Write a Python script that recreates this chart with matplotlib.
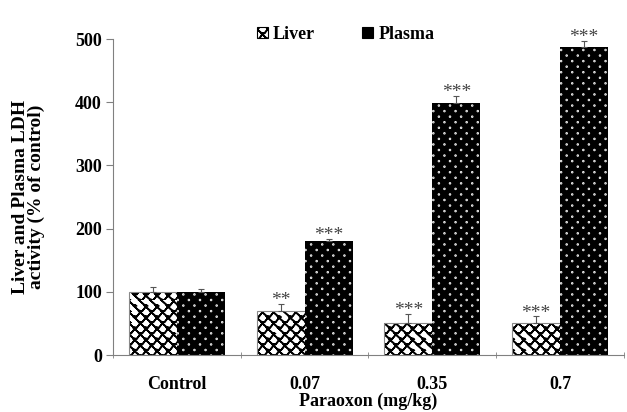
import numpy as np
import matplotlib
matplotlib.use("Agg")
import matplotlib.pyplot as plt
from matplotlib import hatch as mhatch
from matplotlib.path import Path

# data
categories = ["Control", "0.07", "0.35", "0.7"]
liver = [100, 70, 51, 51]
liver_err = [7, 11, 14, 10]
plasma = [100, 181, 399, 487]
plasma_err = [4, 3, 11, 10]
liver_stars = ["", "**", "***", "***"]
plasma_stars = ["", "***", "***", "***"]


# custom fill patterns (Excel-like "shingle" and staggered dots)
class ShingleHatch(mhatch.HatchPatternBase):
    rows, cols = 18, 9

    def __init__(self, hatch, density):
        self.on = hatch.count("O") > 0
        self.num_vertices = self.rows * (self.cols + 2) * 7 if self.on else 0

    def set_vertices_and_codes(self, vertices, codes):
        p = 1.0 / self.cols
        h = 1.0 / self.rows
        cup = np.array([[0.0, 1.0], [0.5, 0.1], [0.8, 0.0], [1.0, 0.5]])
        cup = cup * [p, h]
        shape = np.concatenate([cup, cup[-2::-1]])
        code = [Path.MOVETO] + [Path.LINETO] * 6
        vs, cs = [], []
        for r in range(self.rows):
            off = 0.5 * p if r % 2 else 0.0
            for j in range(-1, self.cols + 1):
                vs.append(shape + [j * p + off, r * h])
                cs.append(code)
        np.concatenate(vs, out=vertices)
        np.concatenate(cs, out=codes)


class StaggerDots(mhatch.HatchPatternBase):
    rows, cols = 18, 9
    radius = 0.004

    def __init__(self, hatch, density):
        self.on = hatch.count(".") > 0
        self.circle = Path.unit_circle()
        n = len(self.circle.vertices)
        self.num_vertices = (self.rows + 1) * (self.cols + 1) * n if self.on else 0

    def set_vertices_and_codes(self, vertices, codes):
        p = 1.0 / self.cols
        h = 1.0 / self.rows
        cv = self.circle.vertices * self.radius
        vs, cs = [], []
        for r in range(self.rows + 1):
            off = 0.5 * p if r % 2 else 0.0
            for j in range(self.cols + 1):
                vs.append(cv + [j * p + off, r * h])
                cs.append(self.circle.codes)
        np.concatenate(vs, out=vertices)
        np.concatenate(cs, out=codes)


mhatch._hatch_types = [ShingleHatch, StaggerDots]

plt.rcParams["font.family"] = ["Liberation Serif", "DejaVu Serif"]
plt.rcParams["hatch.linewidth"] = 1.2

fig = plt.figure(figsize=(6.27, 4.12), dpi=100)
ax = fig.add_axes([0.1802, 0.1383, 0.815, 0.767])

x = np.arange(len(categories))
w = 0.376

ax.bar(x - w / 2, liver, w, color="white", edgecolor="black",
       hatch="O", linewidth=0, label="Liver")
ax.bar(x - w / 2, liver, w, fill=False, edgecolor="#888888", linewidth=0.8)
ax.bar(x + w / 2, plasma, w, color="black", edgecolor="white",
       hatch=".", linewidth=0, label="Plasma")

ax.errorbar(x - w / 2, liver, yerr=[np.zeros(4), liver_err], fmt="none",
            ecolor="#555555", elinewidth=0.8, capsize=2, capthick=0.8)
ax.errorbar(x + w / 2, plasma, yerr=[np.zeros(4), plasma_err], fmt="none",
            ecolor="#555555", elinewidth=0.8, capsize=2, capthick=0.8)

for i in range(len(categories)):
    if liver_stars[i]:
        ax.text(x[i] - w / 2, liver[i] + liver_err[i] - 8, liver_stars[i],
                ha="center", va="bottom", fontsize=14, color="#444444")
    if plasma_stars[i]:
        ax.text(x[i] + w / 2, plasma[i] + plasma_err[i] - 8, plasma_stars[i],
                ha="center", va="bottom", fontsize=14, color="#444444")

ax.set_xlim(-0.5, 3.5)
ax.set_ylim(0, 500)
ax.set_yticks([0, 100, 200, 300, 400, 500])
ax.set_xticks(x)
ax.set_xticklabels(categories, fontweight="bold", fontsize=13)
ax.set_xticks(np.arange(-0.5, 4, 1), minor=True)
ax.tick_params(axis="x", which="major", length=0, pad=15)
ax.tick_params(axis="x", which="minor", length=5, color="gray", direction="inout")
ax.tick_params(axis="y", length=5, color="gray", labelsize=13, pad=3)
for lab in ax.get_yticklabels():
    lab.set_fontweight("bold")

for s in ["top", "right"]:
    ax.spines[s].set_visible(False)
ax.spines["left"].set_color("gray")
ax.spines["bottom"].set_color("gray")

ax.set_xlabel("Paraoxon (mg/kg)", fontweight="bold", fontsize=13, labelpad=0)
ax.set_ylabel("Liver and Plasma LDH\nactivity (% of control)", fontweight="bold",
              fontsize=14, labelpad=22, linespacing=0.85)

leg = ax.legend(loc="center", bbox_to_anchor=(0.455, 1.015), ncol=2, frameon=False,
                prop={"weight": "bold", "size": 13}, handlelength=0.6,
                handleheight=0.6, columnspacing=2.6, handletextpad=0.3)
for hnd in leg.legend_handles:
    hnd.set_linewidth(0.8)
    hnd.set_edgecolor("black")

fig.savefig("out.png", dpi=100)
